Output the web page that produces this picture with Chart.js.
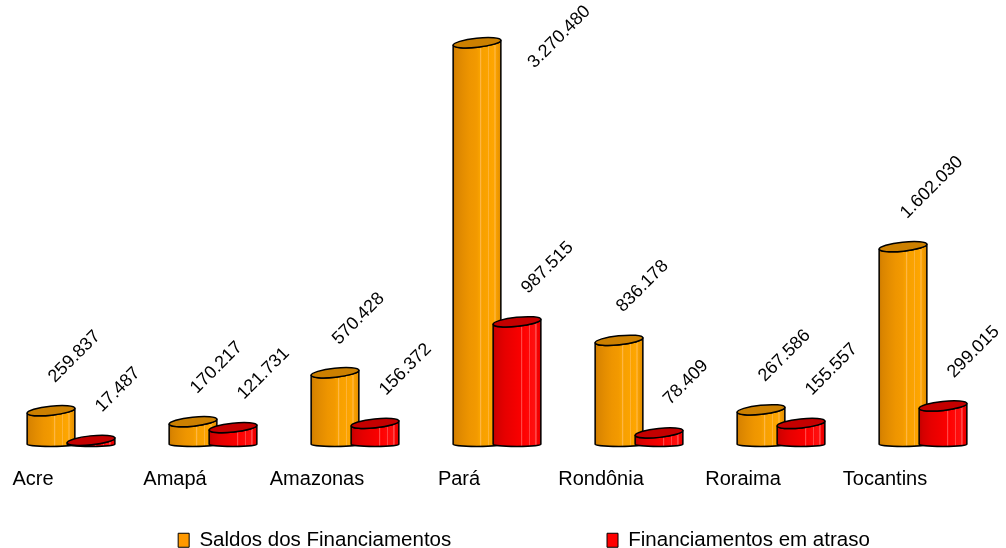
<!DOCTYPE html>
<html>
<head>
<meta charset="utf-8">
<script src="https://cdn.jsdelivr.net/npm/chart.js@4.4.1/dist/chart.umd.min.js"></script>
<style>
html, body { margin: 0; padding: 0; background: #fff; }
</style>
</head>
<body>
<canvas id="myChart" width="1006" height="548"></canvas>
<script>
// data
var states = ['Acre', 'Amapá', 'Amazonas', 'Pará', 'Rondônia', 'Roraima', 'Tocantins'];
var saldos = [259837, 170217, 570428, 3270480, 836178, 267586, 1602030];
var atraso = [17487, 121731, 156372, 987515, 78409, 155557, 299015];
var seriesNames = ['Saldos dos Financiamentos', 'Financiamentos em atraso'];

var FONT = '"Liberation Sans", Arial, sans-serif';

// look of the "3d" columns, one per series
var looks = [
  { cap: '#CC8000', labelDx: 4, stops: [
    [0, '#C87800'], [0.06, '#D98400'], [0.2, '#E48D00'], [0.35, '#EE9500'], [0.5, '#F39A00'],
    [0.56, '#F9A300'], [0.57, '#FFB84A'], [0.6, '#F7A000'], [0.72, '#FBA300'], [0.73, '#FFBA50'],
    [0.76, '#FBA300'], [0.86, '#FFA600'], [0.87, '#FFBE5A'], [0.9, '#F8A000'], [1, '#E08C00']] },
  { cap: '#C40000', labelDx: 11, stops: [
    [0, '#C00000'], [0.08, '#D40000'], [0.25, '#E60000'], [0.45, '#F20000'], [0.58, '#FA0000'],
    [0.59, '#FF5050'], [0.62, '#FF0000'], [0.74, '#FF0808'], [0.75, '#FF6060'], [0.78, '#FF0A0A'],
    [0.88, '#FF1010'], [0.89, '#FF7070'], [0.92, '#F80000'], [1, '#E00000']] }
];

function fmt(v) {
  return String(v).replace(/\B(?=(\d{3})+(?!\d))/g, '.');
}

function drawColumn(ctx, bar, look) {
  var cx = bar.x, rx = bar.width / 2, ry = 4.5;
  var rot = -0.105;
  var cy = bar.y - rx * Math.sin(-rot);
  var base = bar.base;
  var lx = cx - rx * Math.cos(rot), ly = cy - rx * Math.sin(rot);
  var rxp = cx + rx * Math.cos(rot);

  var grad = ctx.createLinearGradient(cx - rx, 0, cx + rx, 0);
  look.stops.forEach(function (s) { grad.addColorStop(s[0], s[1]); });

  ctx.save();
  ctx.lineWidth = 1.5;
  ctx.lineJoin = 'round';
  ctx.strokeStyle = '#000';

  // body
  ctx.beginPath();
  ctx.moveTo(lx, base - 1);
  ctx.lineTo(lx, ly);
  ctx.ellipse(cx, cy, rx, ry, rot, Math.PI, 0, true);
  ctx.lineTo(rxp, base - 1);
  ctx.ellipse(cx, base - 1, rx, 2.5, 0, 0, Math.PI, false);
  ctx.closePath();
  ctx.fillStyle = grad;
  ctx.fill();
  ctx.stroke();

  // top
  ctx.beginPath();
  ctx.ellipse(cx, cy, rx, ry, rot, 0, Math.PI * 2);
  ctx.fillStyle = look.cap;
  ctx.fill();
  ctx.stroke();
  ctx.restore();
}

var columns3d = {
  id: 'columns3d',
  afterLayout: function (chart) {
    // legend sits a bit right of centre in the original
    chart.legend.left += 27;
    chart.legend.right += 27;
  },
  afterDatasetsDraw: function (chart) {
    var ctx = chart.ctx;
    chart.data.datasets.forEach(function (ds, di) {
      chart.getDatasetMeta(di).data.forEach(function (bar) {
        drawColumn(ctx, bar, looks[di]);
      });
    });
    // value labels
    ctx.save();
    ctx.font = '18px ' + FONT;
    ctx.fillStyle = '#000';
    ctx.textAlign = 'left';
    ctx.textBaseline = 'alphabetic';
    chart.data.datasets.forEach(function (ds, di) {
      chart.getDatasetMeta(di).data.forEach(function (bar, i) {
        var txt = fmt(ds.data[i]);
        var w = ctx.measureText(txt).width;
        var ax = bar.x + looks[di].labelDx, ay = bar.y - 30;
        var rise = (w + 13) * Math.SQRT1_2;
        if (ay - rise < 3) {
          var d = 3 + rise - ay;
          ay += d;
          ax += d;
        }
        ctx.save();
        ctx.translate(ax, ay);
        ctx.rotate(-Math.PI / 4);
        ctx.fillText(txt, 0, 0);
        ctx.restore();
      });
    });
    ctx.restore();
  }
};

var ctx = document.getElementById('myChart').getContext('2d');
var myChart = new Chart(ctx, {
  type: 'bar',
  data: {
    labels: states,
    datasets: [{
      label: seriesNames[0],
      data: saldos,
      backgroundColor: '#FF9900',
      borderColor: '#000',
      borderWidth: 1
    }, {
      label: seriesNames[1],
      data: atraso,
      backgroundColor: '#FF0000',
      borderColor: '#000',
      borderWidth: 1
    }]
  },
  options: {
    responsive: false,
    animation: false,
    categoryPercentage: 0.5634,
    barPercentage: 1.2,
    layout: { padding: { top: 5, right: 12, left: 0, bottom: 0 } },
    scales: {
      x: {
        grid: { display: false, drawTicks: false },
        border: { display: false },
        ticks: {
          color: '#000',
          font: { family: FONT, size: 20 },
          padding: 22,
          labelOffset: -38,
          maxRotation: 0,
          autoSkip: false
        },
        afterFit: function (scale) { scale.height = 83; }
      },
      y: { display: false, min: 0, max: 3600000 }
    },
    plugins: {
      tooltip: { enabled: false },
      legend: {
        position: 'bottom',
        maxHeight: 20,
        labels: {
          color: '#000',
          boxWidth: 11,
          boxHeight: 14,
          padding: 2,
          font: { family: FONT, size: 20.5 },
          generateLabels: function (chart) {
            var items = Chart.defaults.plugins.legend.labels.generateLabels(chart);
            items[0].text += ' '.repeat(27); // gap between the two entries
            return items;
          }
        }
      }
    }
  },
  plugins: [columns3d]
});
</script>
</body>
</html>
